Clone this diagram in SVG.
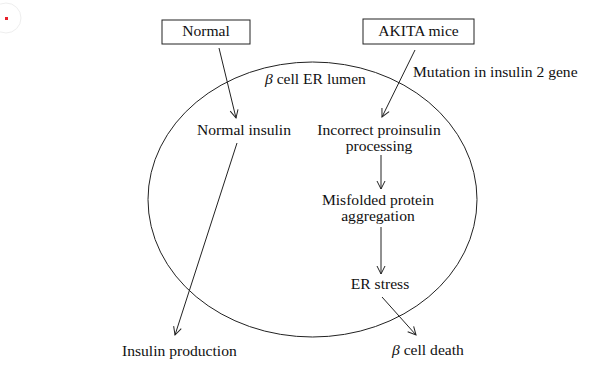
<svg xmlns="http://www.w3.org/2000/svg" width="606" height="374" viewBox="0 0 606 374">
<style>
text{font-family:"Liberation Serif","Times New Roman",serif;font-size:15.6px;fill:#111}
.c{text-anchor:middle}
.box{fill:#fff;stroke:#222;stroke-width:1}
.ln{stroke:#222;stroke-width:1;fill:none;marker-end:url(#ah)}
</style>
<defs>
<marker id="ah" viewBox="0 0 10 10" refX="9" refY="5" markerWidth="10" markerHeight="10" markerUnits="userSpaceOnUse" orient="auto">
<polyline points="1,1 9,5 1,9" fill="none" stroke="#222" stroke-width="1"/>
</marker>
</defs>
<rect width="606" height="374" fill="#fff"/>
<circle cx="6" cy="18" r="15" fill="none" stroke="#eee" stroke-width="1"/>
<rect x="5" y="17" width="3" height="3" fill="#e8202a"/>
<g id="lumen">
<ellipse cx="312.5" cy="199.5" rx="164.5" ry="137.5" fill="none" stroke="#222" stroke-width="1"/>
<text x="265" y="84"><tspan font-style="italic">β</tspan> cell ER lumen</text>
</g>
<g id="normal"><rect class="box" x="162" y="20" width="88" height="24"/><text class="c" x="206" y="36">Normal</text></g>
<g id="akita"><rect class="box" x="363" y="19" width="111" height="25"/><text class="c" x="418.5" y="36">AKITA mice</text></g>
<g id="normal-insulin"><text class="c" x="244" y="135">Normal insulin</text></g>
<g id="incorrect"><text class="c" x="379" y="135">Incorrect proinsulin</text><text class="c" x="379" y="151">processing</text></g>
<g id="misfolded"><text class="c" x="378" y="205">Misfolded protein</text><text class="c" x="378" y="221">aggregation</text></g>
<g id="er-stress"><text class="c" x="380" y="289">ER stress</text></g>
<g id="cell-death"><text x="392" y="355"><tspan font-style="italic">β</tspan> cell death</text></g>
<g id="insulin-production"><text x="122" y="356">Insulin production</text></g>
<g id="connectors">
<line class="ln" x1="219" y1="48" x2="236" y2="118"/>
<line class="ln" x1="415" y1="50" x2="382" y2="117"/>
<text x="413" y="77">Mutation in insulin 2 gene</text>
<line class="ln" x1="381" y1="155" x2="381" y2="189"/>
<line class="ln" x1="381" y1="227" x2="381" y2="274"/>
<line class="ln" x1="382" y1="297" x2="416" y2="335"/>
<line class="ln" x1="237" y1="143" x2="175" y2="335"/>
</g>
</svg>
